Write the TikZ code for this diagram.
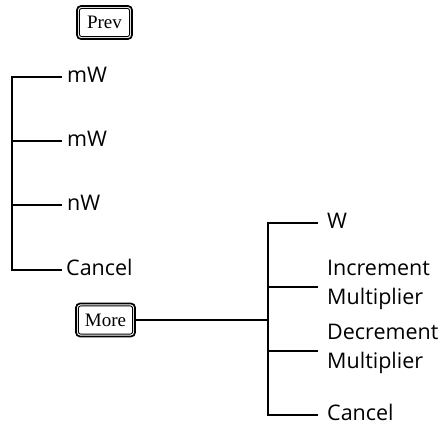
\documentclass[tikz,border=0pt]{standalone}
\usepackage{fontspec}
\setsansfont{Open Sans}
\newfontfamily\btnfont{Liberation Serif}
\begin{document}
\begin{tikzpicture}[x=1pt,y=-1pt,
  conn/.style={line width=1.6pt},
  lbl/.style={anchor=west, inner ysep=0pt, font=\fontsize{21.5}{28.5}\selectfont\sffamily, text height=10.5pt, text depth=0pt},
  lbltwo/.style={anchor=west, inner ysep=0pt, font=\fontsize{21.5}{28.5}\selectfont\sffamily, align=left, yshift=2pt},
  btn/.style={draw, line width=1.7pt, rounded corners=4pt, inner sep=0pt, minimum height=33pt, font=\fontsize{19}{21}\selectfont\btnfont},
  btninner/.style={line width=0.9pt, rounded corners=2.5pt}
]
\useasboundingbox (0,0) rectangle (445,424);

% buttons
\node[btn, minimum width=55pt] (prev) at (104.5,22.5) {Prev};
\draw[btninner] ([shift={(3.2pt,3.2pt)}]prev.south west) rectangle ([shift={(-3.2pt,-3.2pt)}]prev.north east);
\node[btn, minimum width=59pt] (more) at (105.5,320) {More};
\draw[btninner] ([shift={(3.2pt,3.2pt)}]more.south west) rectangle ([shift={(-3.2pt,-3.2pt)}]more.north east);

% left tree
\coordinate (Lx) at (12,0);
\node[lbl, inner xsep=5pt] (l1) at (62,77) {mW};
\node[lbl, inner xsep=5pt] (l2) at (62,141) {mW};
\node[lbl, inner xsep=5pt] (l3) at (62,205) {nW};
\node[lbl, inner xsep=4pt] (l4) at (62,270) {Cancel};
\draw[conn] (l1.west) -- (l1.west -| Lx) -- (l4.west -| Lx) -- (l4.west);
\draw[conn] (l2.west) -- (l2.west -| Lx);
\draw[conn] (l3.west) -- (l3.west -| Lx);

% right tree
\coordinate (Rx) at (268,0);
\node[lbl, inner xsep=9pt] (r1) at (318,223) {W};
\node[lbltwo, inner xsep=9pt] (r2) at (318,287) {Increment\\Multiplier};
\node[lbltwo, inner xsep=9pt] (r3) at (318,351) {Decrement\\Multiplier};
\node[lbl, inner xsep=9pt] (r4) at (318,415) {Cancel};
\draw[conn] (r1.west) -- (r1.west -| Rx) -- (r4.west -| Rx) -- (r4.west);
\draw[conn] ([yshift=-2pt]r2.west) -- ([yshift=-2pt]r2.west -| Rx);
\draw[conn] ([yshift=-2pt]r3.west) -- ([yshift=-2pt]r3.west -| Rx);
\draw[conn] (more.east) -- (more.east -| Rx);
\end{tikzpicture}
\end{document}
